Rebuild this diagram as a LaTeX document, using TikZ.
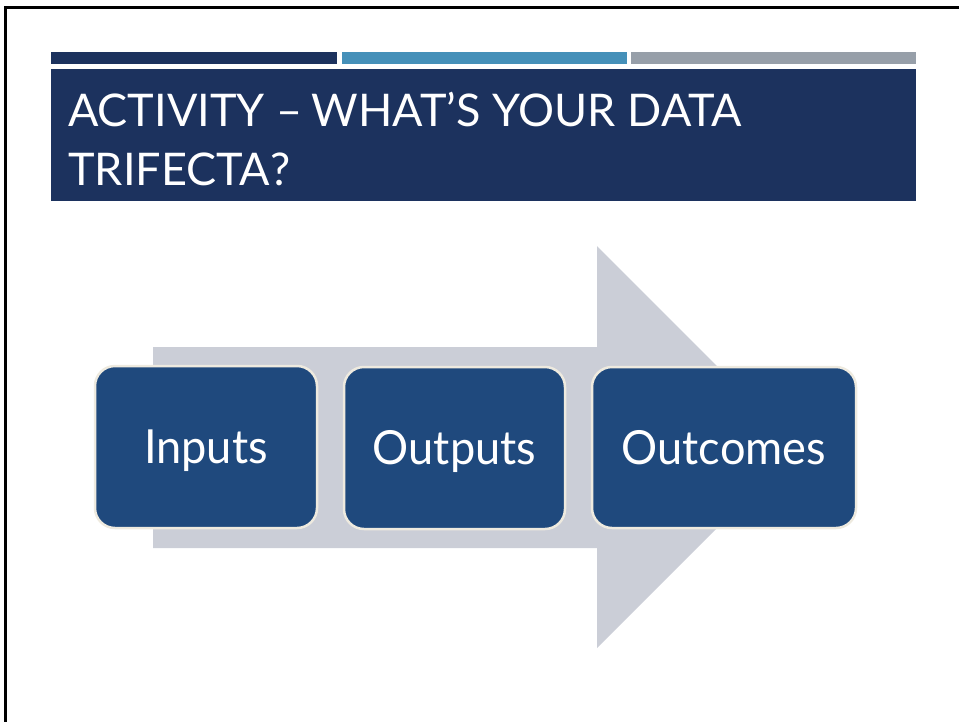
\documentclass[tikz,border=0pt]{standalone}
\usepackage{fontspec}
\newfontfamily\gill{Lato}
\newfontfamily\gillbox[FakeStretch=0.96]{Lato}
\definecolor{navy}{HTML}{1C325E}
\definecolor{lblue}{HTML}{4590B9}
\definecolor{gbar}{HTML}{979FA9}
\definecolor{arrowgray}{HTML}{CBCED7}
\definecolor{boxblue}{HTML}{1F497D}
\definecolor{cream}{HTML}{EEEADF}
\tikzset{
  stepbox/.style={draw=cream, line width=2.5pt, fill=boxblue, rounded corners=20pt,
    text=white, font=\gillbox\fontsize{47}{52}\selectfont, inner sep=0pt,
    text height=33pt, text depth=0pt},
  titletext/.style={anchor=base west, inner sep=0pt, text=white,
    font=\gill\fontsize{45}{59}\selectfont},
  bar/.style={inner sep=0pt, outer sep=0pt},
}
\begin{document}
\begin{tikzpicture}[x=1pt, y=-1pt]
\useasboundingbox (0,0) rectangle (959,721);
% frame
\draw[line width=3pt, line cap=rect] (5.5,721) -- (5.5,7.5) -- (959,7.5);
% bars
\fill[navy] (51,52) rectangle (337,64);
\fill[lblue] (342,52) rectangle (627,64);
\fill[gbar] (631,52) rectangle (916,64);
% title box
\node[bar, fill=navy, minimum width=865pt, minimum height=132pt, anchor=north west] (title) at (51,69) {};
\node[titletext] (t1) at (68,126) {ACTIVITY –\kern-2pt\ WHAT’S YOUR DATA};
\node[titletext] (t2) at (68,185) {TRIFECTA?};
% arrow
\fill[arrowgray] (153,347) -- (597,347) -- (597,246) -- (798,447) -- (597,648) -- (597,548) -- (153,548) -- cycle;
% boxes
\node[stepbox, minimum width=222pt, minimum height=162pt] (in) at (206,447) {Inputs};
\node[stepbox, minimum width=221pt, minimum height=162pt] (out) at (454.5,448) {Outputs};
\node[stepbox, minimum width=264pt, minimum height=161pt] (oc) at (724,447.5) {Outcomes};
\end{tikzpicture}
\end{document}
